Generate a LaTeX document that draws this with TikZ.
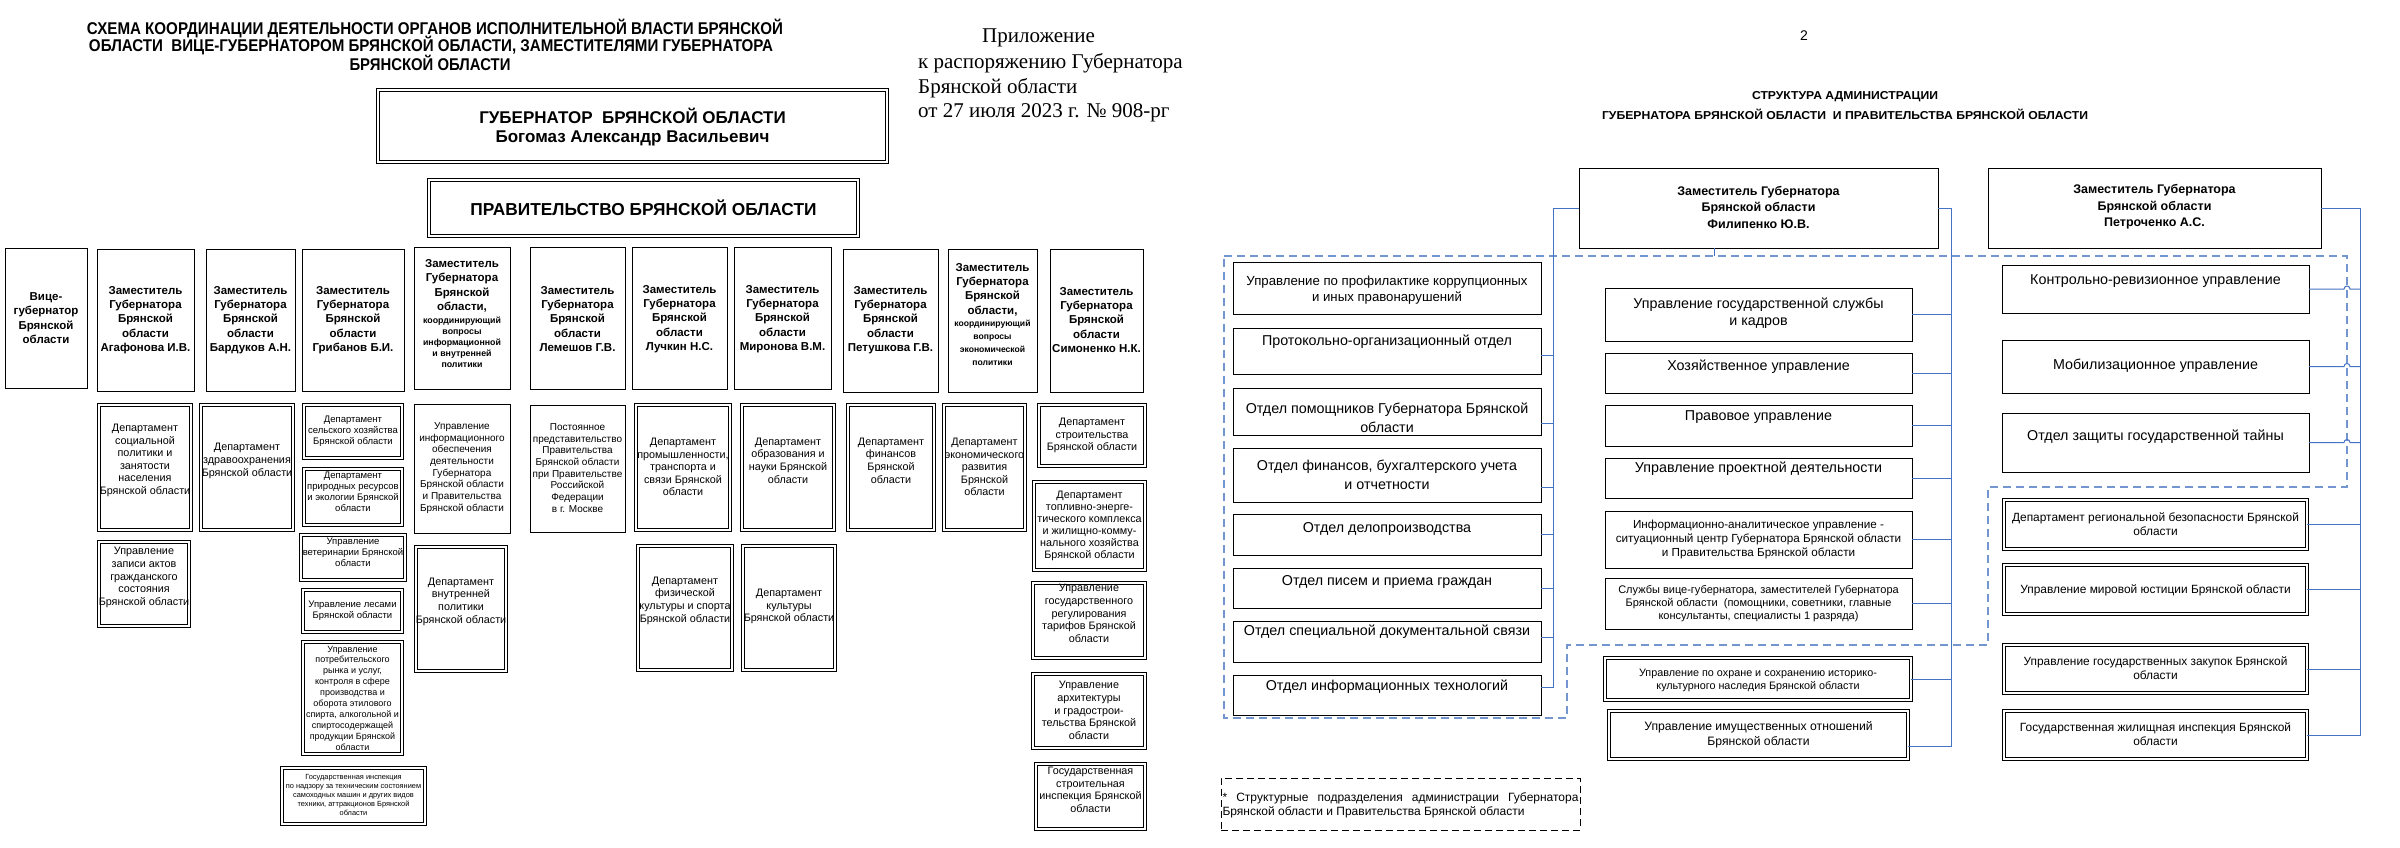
\documentclass[tikz,border=0pt]{standalone}
\usepackage{fontspec}
\setmainfont{Liberation Sans}
\newfontfamily\timesf{Liberation Serif}
\usepackage{graphicx}
\usetikzlibrary{shadows}
\newcommand\fz[2]{\fontsize{#1}{#2}\selectfont}
\newcommand\wfit[2]{\resizebox{#1pt}{\height}{#2}}
\definecolor{busblue}{RGB}{68,114,196}
\definecolor{dashblue}{RGB}{115,150,208}
\tikzset{
 sbox/.style={draw=black, line width=1pt, fill=white, inner sep=0pt, outer sep=0pt,
   /utils/exec={\def\bxin{0}},
   drop shadow={shadow xshift=1.3pt, shadow yshift=-1.3pt, fill=black!45, opacity=1}},
 dbox/.style={draw=black, line width=0.8pt, double=white, double distance=2pt, inner sep=0pt, outer sep=0pt,
   /utils/exec={\def\bxin{3.6}}},
 lbox/.style={draw=black, line width=1pt, dash pattern=on 7pt off 4pt, inner sep=0pt, outer sep=0pt,
   /utils/exec={\def\bxin{0}}},
 txt/.style={align=center, inner sep=0pt},
 bus/.style={draw=busblue, line width=1pt},
 dashline/.style={draw=dashblue, line width=1.3pt, dash pattern=on 8pt off 5pt},
 dep/.style={font=\fz{11.5}{14.4}\bfseries},
 dept/.style={font=\fz{10.8}{12.6}},
 sm/.style={font=\fz{9.5}{11}},
 rf/.style={font=\fz{14.3}{19}},
 rb/.style={font=\fz{11.9}{14}},
}
% name, style, x1, y1, x2, y2, text-y, text options, text
\newcommand\bx[9]{%
 \node[#2, minimum width={(#5)-(#3)-\bxin}, minimum height={(#6)-(#4)-\bxin}] (#1) at ({((#3)+(#5))/2},{((#4)+(#6))/2}) {};
 \node[txt,#8] (#1-t) at ({((#3)+(#5))/2},{#7}) {#9};}
\begin{document}
\begin{tikzpicture}[x=1pt,y=-1pt]
\fill[white] (0,0) rectangle (2400,848);
\useasboundingbox (0,0) rectangle (2400,848);

% ---------------- LEFT PAGE ----------------
\node[txt, font=\fz{17}{20}\bfseries] (t1) at (435,28) {\wfit{696}{СХЕМА КООРДИНАЦИИ ДЕЯТЕЛЬНОСТИ ОРГАНОВ ИСПОЛНИТЕЛЬНОЙ ВЛАСТИ БРЯНСКОЙ}};
\node[txt, font=\fz{17}{20}\bfseries] (t2) at (431,45.5) {\wfit{684}{ОБЛАСТИ\ \ ВИЦЕ-ГУБЕРНАТОРОМ БРЯНСКОЙ ОБЛАСТИ, ЗАМЕСТИТЕЛЯМИ ГУБЕРНАТОРА}};
\node[txt, font=\fz{17}{20}\bfseries] (t3) at (430,63) {\wfit{161}{БРЯНСКОЙ ОБЛАСТИ}};

\node[anchor=west, inner sep=0pt, font=\timesf\fz{21}{24}] (ap1) at (982,38) {Приложение};
\node[anchor=west, inner sep=0pt, font=\timesf\fz{21}{24}] (ap2) at (918,63) {к распоряжению Губернатора};
\node[anchor=west, inner sep=0pt, font=\timesf\fz{21}{24}] (ap3) at (918,88) {Брянской области};
\node[anchor=west, inner sep=0pt, font=\timesf\fz{21}{24}] (ap4) at (918,113) {от 27 июля 2023 г. № 908-рг};

\bx{gov}{dbox}{376}{88}{889}{164}{127.5}{font=\fz{17}{19}\bfseries}{ГУБЕРНАТОР\ \ БРЯНСКОЙ ОБЛАСТИ\\Богомаз Александр Васильевич}
\bx{govt}{dbox}{427}{178}{860}{238}{208}{font=\fz{17.3}{20}\bfseries}{ПРАВИТЕЛЬСТВО БРЯНСКОЙ ОБЛАСТИ}

% deputies
\bx{vice}{sbox}{5}{248}{87}{388}{318}{dep}{Вице-\\губернатор\\Брянской\\области}
\bx{d1}{sbox}{97}{249}{194}{391}{320}{dep}{Заместитель\\Губернатора\\Брянской\\области\\Агафонова И.В.}
\bx{d2}{sbox}{206}{249}{295}{391}{320}{dep}{Заместитель\\Губернатора\\Брянской\\области\\Бардуков А.Н.}
\bx{d3}{sbox}{302}{249}{404}{391}{320}{dep}{Заместитель\\Губернатора\\Брянской\\области\\Грибанов Б.И.}
\bx{d4}{sbox}{414}{247}{510}{389}{286}{dep}{Заместитель\\Губернатора\\Брянской\\области,}
\node[txt, font=\fz{8.8}{11}\bfseries] (d4-s) at (462,342) {координирующий\\вопросы\\информационной\\и внутренней\\политики};
\bx{d5}{sbox}{530}{247}{625}{389}{319}{dep}{Заместитель\\Губернатора\\Брянской\\области\\Лемешов Г.В.}
\bx{d6}{sbox}{632}{247}{727}{389}{319}{dep}{Заместитель\\Губернатора\\Брянской\\области\\Лучкин Н.С.}
\bx{d7}{sbox}{734}{247}{831}{389}{319}{dep}{Заместитель\\Губернатора\\Брянской\\области\\Миронова В.М.}
\bx{d8}{sbox}{843}{249}{938}{392}{320}{dep}{Заместитель\\Губернатора\\Брянской\\области\\Петушкова Г.В.}
\bx{d9}{sbox}{948}{249}{1037}{392}{289.5}{dep}{Заместитель\\Губернатора\\Брянской\\области,}
\node[txt, font=\fz{8.6}{13}\bfseries] (d9-s) at (992.5,342.5) {координирующий\\вопросы\\экономической\\политики};
\bx{d10}{sbox}{1050}{249}{1143}{392}{320}{dep}{Заместитель\\Губернатора\\Брянской\\области\\Симоненко Н.К.}

% departments
\bx{a1}{dbox}{97}{403}{193}{532}{460.5}{dept}{Департамент\\социальной\\политики и\\занятости\\населения\\Брянской области}
\bx{a2}{dbox}{97}{540}{191}{628}{577.5}{dept}{Управление\\записи актов\\гражданского\\состояния\\Брянской области}
\bx{b1}{dbox}{199}{403}{295}{532}{461}{dept}{Департамент\\здравоохранения\\Брянской области}
\bx{c1}{dbox}{302}{403}{404}{460}{431}{sm}{Департамент\\сельского хозяйства\\Брянской области}
\bx{c2}{dbox}{302}{467}{404}{527}{491.5}{sm}{Департамент\\природных ресурсов\\и экологии Брянской\\области}
\bx{c3}{dbox}{299}{533}{407}{582}{552}{sm}{Управление\\ветеринарии Брянской\\области}
\bx{c4}{dbox}{301}{588}{404}{634}{610.5}{sm}{Управление лесами\\Брянской области}
\bx{c5}{dbox}{301}{640}{404}{756}{698}{font=\fz{9}{10.9}}{Управление\\потребительского\\рынка и услуг,\\контроля в сфере\\производства и\\оборота этилового\\спирта, алкогольной и\\спиртосодержащей\\продукции Брянской\\области}
\bx{c6}{dbox}{280}{766}{427}{826}{795}{font=\fz{7.4}{8.9}}{Государственная инспекция\\по надзору за техническим состоянием\\самоходных машин и других видов\\техники, аттракционов Брянской\\области}
\bx{e1}{sbox}{414}{404}{510}{533}{468}{font=\fz{10}{11.7}}{Управление\\информационного\\обеспечения\\деятельности\\Губернатора\\Брянской области\\и Правительства\\Брянской области}
\bx{e2}{dbox}{414}{545}{508}{673}{601.5}{dept}{Департамент\\внутренней\\политики\\Брянской области}
\bx{f1}{sbox}{530}{405}{625}{532}{468}{font=\fz{10}{11.7}}{Постоянное\\представительство\\Правительства\\Брянской области\\при Правительстве\\Российской\\Федерации\\в г. Москве}
\bx{g1}{dbox}{634}{403}{732}{532}{467}{dept}{Департамент\\промышленности,\\транспорта и\\связи Брянской\\области}
\bx{g2}{dbox}{636}{544}{734}{672}{600.5}{dept}{Департамент\\физической\\культуры и спорта\\Брянской области}
\bx{h1}{dbox}{740}{403}{836}{532}{460.5}{dept}{Департамент\\образования и\\науки Брянской\\области}
\bx{h2}{dbox}{741}{544}{837}{672}{606.5}{dept}{Департамент\\культуры\\Брянской области}
\bx{i1}{dbox}{846}{403}{936}{532}{460.5}{dept}{Департамент\\финансов\\Брянской\\области}
\bx{j1}{dbox}{942}{403}{1027}{532}{467}{dept}{Департамент\\экономического\\развития\\Брянской\\области}
\bx{k1}{dbox}{1037}{403}{1147}{468}{435.5}{dept}{Департамент\\строительства\\Брянской области}
\bx{k2}{dbox}{1032}{480}{1147}{572}{526}{font=\fz{10.8}{12}}{Департамент\\топливно-энерге-\\тического комплекса\\и жилищно-комму-\\нального хозяйства\\Брянской области}
\bx{k3}{dbox}{1031}{581}{1147}{660}{613.5}{dept}{Управление\\государственного\\регулирования\\тарифов Брянской\\области}
\bx{k4}{dbox}{1031}{672}{1147}{750}{710.5}{dept}{Управление\\архитектуры\\и градострои-\\тельства Брянской\\области}
\bx{k5}{dbox}{1034}{762}{1147}{831}{790}{dept}{Государственная\\строительная\\инспекция Брянской\\области}

% ---------------- RIGHT PAGE ----------------
\node[txt, font=\fz{14}{16}] (pg) at (1804,36) {2};
\node[txt, font=\fz{11.5}{13}\bfseries] (rt1) at (1845,97) {\wfit{186}{СТРУКТУРА АДМИНИСТРАЦИИ}};
\node[txt, font=\fz{11.5}{13}\bfseries] (rt2) at (1845,114) {\wfit{486}{ГУБЕРНАТОРА БРЯНСКОЙ ОБЛАСТИ\ \ И ПРАВИТЕЛЬСТВА БРЯНСКОЙ ОБЛАСТИ}};

% dashed outline of administration units
\draw[dashline] (1224,256) -- (2347,256) -- (2347,487) -- (1988,487) -- (1988,645) -- (1567,645) -- (1567,718) -- (1224,718) -- cycle;

\bx{fil}{sbox}{1579}{168}{1938}{248}{207}{font=\fz{12.5}{16.5}\bfseries}{Заместитель Губернатора\\Брянской области\\Филипенко Ю.В.}
\bx{pet}{sbox}{1988}{168}{2321}{248}{207}{font=\fz{12.5}{16.5}\bfseries}{Заместитель Губернатора\\Брянской области\\Петроченко А.С.}

\bx{L1}{sbox}{1233}{262}{1541}{314}{290}{font=\fz{13.2}{16}}{Управление по профилактике коррупционных\\и иных правонарушений}
\bx{L2}{sbox}{1233}{328}{1541}{374}{342}{rf}{Протокольно-организационный отдел}
\bx{L3}{sbox}{1233}{388}{1541}{435}{417.5}{rf}{Отдел помощников Губернатора Брянской\\области}
\bx{L4}{sbox}{1233}{448}{1541}{502}{474.5}{rf}{Отдел финансов, бухгалтерского учета\\и отчетности}
\bx{L5}{sbox}{1233}{514}{1541}{555}{529}{rf}{Отдел делопроизводства}
\bx{L6}{sbox}{1233}{568}{1541}{608}{582}{rf}{Отдел писем и приема граждан}
\bx{L7}{sbox}{1233}{621}{1541}{662}{632}{rf}{Отдел специальной документальной связи}
\bx{L8}{sbox}{1233}{675}{1541}{715}{687}{rf}{Отдел информационных технологий}

\bx{M1}{sbox}{1605}{288}{1912}{341}{313}{font=\fz{14.3}{17.5}}{Управление государственной службы\\и кадров}
\bx{M2}{sbox}{1605}{353}{1912}{393}{367}{rf}{Хозяйственное управление}
\bx{M3}{sbox}{1605}{405}{1912}{446}{417}{rf}{Правовое управление}
\bx{M4}{sbox}{1605}{458}{1912}{498}{469}{rf}{Управление проектной деятельности}
\bx{M5}{sbox}{1605}{511}{1912}{568}{539}{font=\fz{11.7}{14}}{Информационно-аналитическое управление -\\ситуационный центр Губернатора Брянской области\\и Правительства Брянской области}
\bx{M6}{sbox}{1605}{578}{1912}{629}{604}{font=\fz{11}{13}}{Службы вице-губернатора, заместителей Губернатора\\Брянской области\ \ (помощники, советники, главные\\консультанты, специалисты 1 разряда)}
\bx{M7}{dbox}{1603}{656}{1913}{702}{680.5}{font=\fz{10.8}{13}}{Управление по охране и сохранению историко-\\культурного наследия Брянской области}
\bx{M8}{dbox}{1607}{709}{1910}{761}{734.5}{font=\fz{12.2}{14.5}}{Управление имущественных отношений\\Брянской области}

\bx{R1}{sbox}{2002}{265}{2309}{313}{281}{rf}{Контрольно-ревизионное управление}
\bx{R2}{sbox}{2002}{340}{2309}{393}{366}{rf}{Мобилизационное управление}
\bx{R3}{sbox}{2002}{413}{2309}{472}{437}{rf}{Отдел защиты государственной тайны}
\bx{R4}{dbox}{2002}{498}{2309}{551}{524}{rb}{Департамент региональной безопасности Брянской\\области}
\bx{R5}{dbox}{2002}{563}{2309}{616}{590}{rb}{Управление мировой юстиции Брянской области}
\bx{R6}{dbox}{2002}{643}{2309}{695}{668.5}{rb}{Управление государственных закупок Брянской\\области}
\bx{R7}{dbox}{2002}{709}{2309}{761}{734.5}{rb}{Государственная жилищная инспекция Брянской\\области}

% connectors
\coordinate (bL) at (1553,208);
\coordinate (bM) at (1951,208);
\coordinate (bR) at (2360,208);
\coordinate (tL2) at ([yshift=-4pt]L2.east);
\coordinate (tL3) at ([yshift=-11.5pt]L3.east);
\coordinate (tL4) at ([yshift=-12pt]L4.east);
\coordinate (tL5) at (L5.east);
\coordinate (tL6) at (L6.east);
\coordinate (tL7) at ([yshift=4.5pt]L7.east);
\coordinate (tL8) at ([yshift=8pt]L8.east);
\draw[bus] (fil.west) -- (bL) -- (bL |- tL8) -- (tL8);
\foreach \t in {tL2,tL3,tL4,tL5,tL6,tL7} \draw[bus] (\t) -- (\t -| bL);

\coordinate (tM8) at ([yshift=-11pt]M8.east);
\draw[bus] (fil.east) -- (bM) -- (bM |- tM8) -- (tM8);
\foreach \m in {M1,M2,M3,M4,M5,M6,M7} \draw[bus] (\m.east) -- (\m.east -| bM);

\draw[bus] (pet.east) -- (bR) -- (bR |- R7.east) -- (R7.east);
\foreach \r in {R1,R2,R3} \draw[bus] (\r.east) -- ([xshift=35pt]\r.east) arc[start angle=180, end angle=0, radius=3pt] -- (\r.east -| bR);
\foreach \r in {R4,R5,R6} \draw[bus] (\r.east) -- (\r.east -| bR);
\draw[bus] ([xshift=-44pt]fil.south) -- ++(0,8);

% legend
\bx{leg}{lbox}{1221}{778}{1580}{830}{805}{font=\fz{12}{14}, text width=356pt, align=justify}{\hyphenpenalty=10000 * Структурные подразделения администрации Губернатора Брянской области и Правительства Брянской области}
\end{tikzpicture}
\end{document}
